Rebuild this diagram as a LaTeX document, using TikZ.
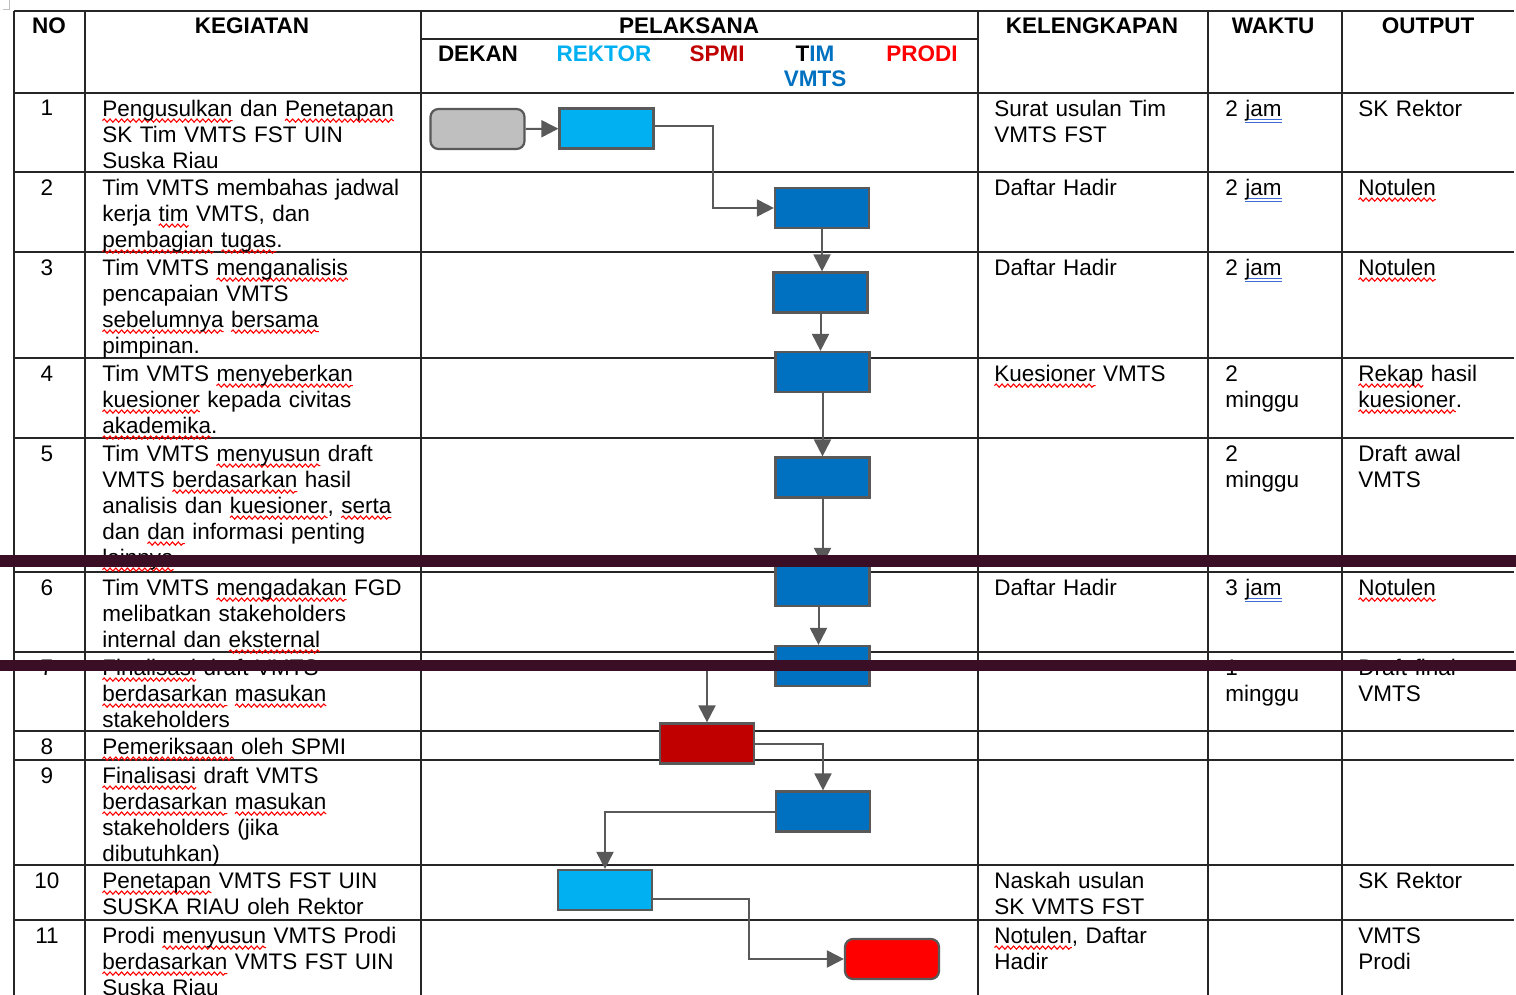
\documentclass[tikz,border=0pt]{standalone}
\usepackage{fontspec}
\setmainfont{Liberation Sans}
\usepackage{xcolor}
\usepackage{tikz}
\usetikzlibrary{arrows.meta,calc,decorations.pathmorphing}

\definecolor{dekan}{HTML}{BFBFBF}
\definecolor{rektor}{HTML}{00B0F0}
\definecolor{spmi}{HTML}{C00000}
\definecolor{timv}{HTML}{0070C0}
\definecolor{prodi}{HTML}{FF0000}
\definecolor{linegray}{HTML}{595959}
\definecolor{barcol}{RGB}{58,14,36}
\definecolor{grammar}{HTML}{3D6BD6}

\newcommand\celltxt{\fontsize{11.25}{13}\selectfont}
\newcommand\headtxt{\fontsize{11.25}{13}\selectfont\bfseries}
% spelling and grammar marks
\newsavebox\markbox
\newlength\markwd
\newcommand\sq[1]{\leavevmode\sbox\markbox{#1}\setlength\markwd{\wd\markbox}%
  \rlap{\tikz[baseline=0pt]{\useasboundingbox (0pt,0pt);
    \draw [red, line width=0.55pt, decorate, decoration={snake, amplitude=0.8pt, segment length=2.9pt}] (0pt,-2.1pt) -- (\markwd,-2.1pt);}}%
  \usebox\markbox}
\newcommand\bj[1]{\leavevmode\sbox\markbox{#1}\setlength\markwd{\wd\markbox}%
  \rlap{\tikz[baseline=0pt]{\useasboundingbox (0pt,0pt);
    \draw [grammar, line width=0.45pt] (0pt,-1.6pt) -- (\markwd,-1.6pt) (0pt,-3pt) -- (\markwd,-3pt);}}%
  \usebox\markbox}

\tikzset{
  tabline/.style={line width=0.75pt, draw=black!85},
  txt/.style={anchor=north west, inner sep=0pt, text width=170pt, align=left, font=\celltxt, execute at begin node=\strut},
  num/.style={anchor=base, inner sep=0pt, font=\celltxt},
  hd/.style={anchor=base, inner sep=0pt, font=\headtxt},
  actbox/.style={draw=linegray, line width=1.1pt, minimum width=47pt, minimum height=20pt, inner sep=0pt},
  conn/.style={draw=linegray, line width=1pt, -{Triangle[length=8.5pt,width=8.5pt]}}
}

\begin{document}
\begin{tikzpicture}[x=0.5pt,y=-0.5pt]
\useasboundingbox (0,0) rectangle (1516,995);
\draw [black!25, line width=0.5pt] (9,0) -- (9,10) -- (3,10);

% table
\foreach \y in {11,93,172,252,358,438,572,652,731,760,865,920}
  \draw [tabline] (14,\y) -- (1514,\y);
\draw [tabline] (421,39) -- (978,39);
\foreach \x in {14,85,421,978,1208,1342}
  \draw [tabline] (\x,11) -- (\x,995);

% header
\node [hd] (hno) at (49,34) {NO};
\node [hd] (hkeg) at (252,34) {KEGIATAN};
\node [hd] (hpel) at (689,34) {PELAKSANA};
\node [hd] (hkel) at (1092,34) {KELENGKAPAN};
\node [hd] (hwak) at (1273,34) {WAKTU};
\node [hd] (hout) at (1428,34) {OUTPUT};
\node [hd] (hdekan) at (478,62) {DEKAN};
\node [hd, text=rektor] (hrektor) at (604,62) {REKTOR};
\node [hd, text=spmi] (hspmi) at (717,62) {SPMI};
\node [hd, text=timv] (htim) at (815,62) {\textcolor{black}{T}IM};
\node [hd, text=timv] (hvmts) at (815,87) {VMTS};
\node [hd, text=prodi] (hprodi) at (922,62) {PRODI};

% nomor
\foreach \n/\t in {1/93,2/172,3/252,4/358,5/438,6/572,7/652,8/731,9/760,10/865,11/920}
  \node [num] (no\n) at (47,{\t+23}) {\n};

% kegiatan
\node [txt] (keg1) at (102,97.8) {\sq{Pengusulkan} dan \sq{Penetapan}\\SK Tim VMTS FST UIN\\Suska Riau};
\node [txt] (keg2) at (102,176.8) {Tim VMTS membahas jadwal\\kerja \sq{tim} VMTS, dan\\\sq{pembagian} \sq{tugas}.};
\node [txt] (keg3) at (102,256.8) {Tim VMTS \sq{menganalisis}\\pencapaian VMTS\\\sq{sebelumnya} \sq{bersama}\\pimpinan.};
\node [txt] (keg4) at (102,362.8) {Tim VMTS \sq{menyeberkan}\\\sq{kuesioner} kepada civitas\\\sq{akademika}.};
\node [txt] (keg5) at (102,442.8) {Tim VMTS \sq{menyusun} draft\\VMTS \sq{berdasarkan} hasil\\analisis dan \sq{kuesioner}, \sq{serta}\\dan \sq{dan} informasi penting\\\sq{lainnya}.};
\node [txt] (keg6) at (102,576.8) {Tim VMTS \sq{mengadakan} FGD\\melibatkan stakeholders\\internal dan \sq{eksternal}};
\node [txt] (keg7) at (102,656.8) {\sq{Finalisasi} draft VMTS\\\sq{berdasarkan} \sq{masukan}\\stakeholders};
\node [txt] (keg8) at (102,735.8) {\sq{Pemeriksaan} oleh SPMI};
\node [txt] (keg9) at (102,764.8) {\sq{Finalisasi} draft VMTS\\\sq{berdasarkan} \sq{masukan}\\stakeholders (jika\\dibutuhkan)};
\node [txt] (keg10) at (102,869.8) {\sq{Penetapan} VMTS FST UIN\\SUSKA RIAU oleh Rektor};
\node [txt] (keg11) at (102,924.8) {Prodi \sq{menyusun} VMTS Prodi\\\sq{berdasarkan} VMTS FST UIN\\Suska Riau};

% kelengkapan
\node [txt] (kel1) at (994,97.8) {Surat usulan Tim\\VMTS FST};
\node [txt] (kel2) at (994,176.8) {Daftar Hadir};
\node [txt] (kel3) at (994,256.8) {Daftar Hadir};
\node [txt] (kel4) at (994,362.8) {\sq{Kuesioner} VMTS};
\node [txt] (kel6) at (994,576.8) {Daftar Hadir};
\node [txt] (kel10) at (994,869.8) {Naskah usulan\\SK VMTS FST};
\node [txt] (kel11) at (994,924.8) {\sq{Notulen}, Daftar\\Hadir};

% waktu
\node [txt] (wak1) at (1225,97.8) {2 \bj{jam}};
\node [txt] (wak2) at (1225,176.8) {2 \bj{jam}};
\node [txt] (wak3) at (1225,256.8) {2 \bj{jam}};
\node [txt] (wak4) at (1225,362.8) {2\\minggu};
\node [txt] (wak5) at (1225,442.8) {2\\minggu};
\node [txt] (wak6) at (1225,576.8) {3 \bj{jam}};
\node [txt] (wak7) at (1225,656.8) {1\\minggu};

% output
\node [txt] (out1) at (1358,97.8) {SK Rektor};
\node [txt] (out2) at (1358,176.8) {\sq{Notulen}};
\node [txt] (out3) at (1358,256.8) {\sq{Notulen}};
\node [txt] (out4) at (1358,362.8) {\sq{Rekap} hasil\\\sq{kuesioner}.};
\node [txt] (out5) at (1358,442.8) {Draft awal\\VMTS};
\node [txt] (out6) at (1358,576.8) {\sq{Notulen}};
\node [txt] (out7) at (1358,656.8) {Draft final\\VMTS};
\node [txt] (out10) at (1358,869.8) {SK Rektor};
\node [txt] (out11) at (1358,924.8) {VMTS\\Prodi};

% alur pelaksana
\node [actbox, fill=dekan, rounded corners=4pt] (g1) at (477.5,129) {};
\node [actbox, fill=rektor] (r1) at (606.5,128.5) {};
\node [actbox, fill=timv] (t2) at (822,208) {};
\node [actbox, fill=timv] (t3) at (820.5,292.5) {};
\node [actbox, fill=timv] (t4) at (822.5,372) {};
\node [actbox, fill=timv] (t5) at (822.5,477.5) {};
\node [actbox, fill=timv] (t6) at (822.5,586) {};
\node [actbox, fill=timv] (t7) at (822.5,666) {};
\node [actbox, fill=spmi] (s8) at (707,743.5) {};
\node [actbox, fill=timv] (t9) at (823,811.5) {};
\node [actbox, fill=rektor] (r10) at (605,890) {};
\node [actbox, fill=prodi, rounded corners=4pt] (p11) at (892,959) {};

\draw [conn] (g1) -- (r1);
\draw [conn] ([yshift=1.25pt]r1.east) -- ++(58,0) |- (t2.west);
\draw [conn] (t2.south) -- (t2.south |- t3.north);
\draw [conn] (t3.south) -- (t3.south |- t4.north);
\draw [conn] (t4.south) -- (t4.south |- t5.north);
\draw [conn] (t5.south) -- (t5.south |- t6.north);
\draw [conn] ([xshift=-2pt]t6.south) -- ([xshift=-2pt]t7.north);
\draw [conn] (t7.west) -| (s8.north);
\draw [conn] (s8.east) -| (t9.north);
\draw [conn] (t9.west) -| (r10.north);
\draw [conn] ([yshift=-4.5pt]r10.east) -- ++(96,0) |- (p11.west);

% dark bars over the page
\fill [barcol] (0,555) rectangle (1516,566.5);
\fill [barcol] (0,660) rectangle (1516,671);
\end{tikzpicture}
\end{document}
